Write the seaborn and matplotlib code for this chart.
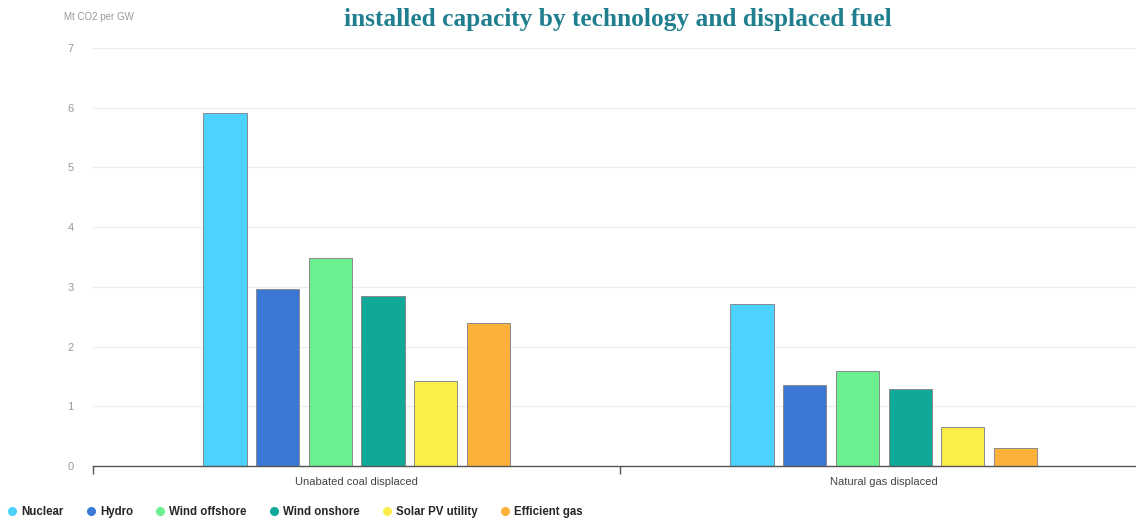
import matplotlib
matplotlib.use("Agg")
import matplotlib.pyplot as plt
from matplotlib.lines import Line2D
import seaborn as sns
import pandas as pd

# data
fuels = ["Unabated coal displaced", "Natural gas displaced"]
techs = ["Nuclear", "Hydro", "Wind offshore", "Wind onshore", "Solar PV utility", "Efficient gas"]
coal_vals = [5.90, 2.96, 3.48, 2.84, 1.42, 2.39]
gas_vals = [2.71, 1.35, 1.59, 1.29, 0.65, 0.30]
colors = ["#4cd2fc", "#3b78d6", "#6af08e", "#10a898", "#fcee4a", "#fcb13b"]
yticks = [0, 1, 2, 3, 4, 5, 6, 7]

df = pd.DataFrame({
    "fuel": [fuels[0]] * len(techs) + [fuels[1]] * len(techs),
    "tech": techs * 2,
    "value": coal_vals + gas_vals,
})

sns.set_theme(style="white")
plt.rcParams["font.family"] = ["Liberation Sans", "DejaVu Sans"]

fig = plt.figure(figsize=(11.36, 5.19), dpi=100)
# axes runs a bit past the right edge of the picture, as in the original
ax = fig.add_axes([0.082, 0.102, 0.928, 0.806])

sns.barplot(data=df, x="fuel", y="value", hue="tech", order=fuels, hue_order=techs,
            palette=colors, width=0.6, gap=0.18, edgecolor="#8a8a8a", linewidth=0.7,
            saturation=1, legend=False, ax=ax)

ax.set_ylim(0, 7)
ax.set_xlim(-0.5, 1.5)
ax.set_yticks(yticks)
ax.set_yticklabels([str(t) for t in yticks], color="#999999", fontsize=8)
ax.yaxis.grid(True, color="#ececec", linewidth=0.9)
ax.set_axisbelow(True)
ax.tick_params(axis="y", length=0, pad=14)
ax.set_xlabel("")
ax.set_ylabel("")

for s in ["top", "right", "left"]:
    ax.spines[s].set_visible(False)
ax.spines["bottom"].set_color("#555555")
ax.spines["bottom"].set_linewidth(1.0)

# category labels, ticks at group boundaries
ax.set_xticks([0, 1])
ax.set_xticklabels(fuels, color="#444444", fontsize=8)
ax.tick_params(axis="x", which="major", bottom=False, length=0, pad=8)
ax.set_xticks([-0.5, 0.5, 1.5], minor=True)
ax.tick_params(axis="x", which="minor", bottom=True, length=6, width=1.0,
               color="#555555", direction="out")

fig.text(0.056, 0.968, "Mt CO2 per GW", color="#999999", fontsize=7, ha="left", va="center")
fig.text(0.544, 0.963, "installed capacity by technology and displaced fuel",
         family=["Liberation Serif", "DejaVu Serif"], fontweight="bold",
         color="#1f7f8e", fontsize=18.3, ha="center", va="center")

handles = [Line2D([0], [0], marker="o", linestyle="", markersize=5.5,
                  markerfacecolor=c, markeredgecolor=c) for c in colors]
fig.legend(handles, techs, loc="lower left", bbox_to_anchor=(-0.006, -0.018), ncol=6,
           frameon=False, handletextpad=0.05, columnspacing=1.6, handlelength=1.5,
           prop={"weight": "bold", "size": 8.3})

fig.savefig("out.png", dpi=100)
